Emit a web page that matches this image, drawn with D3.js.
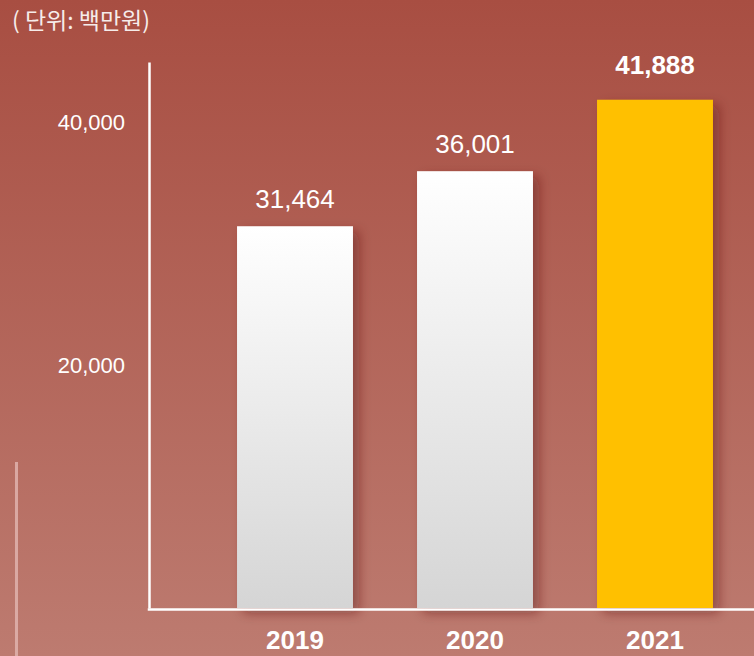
<!DOCTYPE html>
<html>
<head>
<meta charset="utf-8">
<script src="https://cdn.jsdelivr.net/npm/d3@7"></script>
<style>
  html, body { margin: 0; padding: 0; }
  body { width: 754px; height: 656px; overflow: hidden; }
  svg { display: block; font-family: "Liberation Sans", Arial, sans-serif; }
</style>
</head>
<body>
<div id="chart"></div>
<script>
(function () {
  // ---------- Data ----------
  const years = ['2019', '2020', '2021'];
  const sales = [31464, 36001, 41888];
  const yTicks = [20000, 40000];
  const unitLabel = '( 단위: 백만원)';
  const highlightYear = '2021';

  // ---------- Layout ----------
  const width = 754, height = 656;
  const axisX = 149, axisY = 609;

  const svg = d3.select('#chart').append('svg')
    .attr('width', width)
    .attr('height', height);

  const defs = svg.append('defs');

  // background gradient (dark red at top, lighter toward bottom)
  const bg = defs.append('linearGradient')
    .attr('id', 'bg').attr('x1', 0).attr('y1', 0).attr('x2', 0).attr('y2', 1);
  bg.append('stop').attr('offset', '0%').attr('stop-color', '#a84e42');
  bg.append('stop').attr('offset', '100%').attr('stop-color', '#bd7b70');

  // white bars fade to light grey
  const barGrad = defs.append('linearGradient')
    .attr('id', 'barGrad').attr('x1', 0).attr('y1', 0).attr('x2', 0).attr('y2', 1);
  barGrad.append('stop').attr('offset', '0%').attr('stop-color', '#ffffff');
  barGrad.append('stop').attr('offset', '100%').attr('stop-color', '#d5d5d5');

  const shadow = defs.append('filter')
    .attr('id', 'shadow')
    .attr('x', '-20%').attr('y', '-10%').attr('width', '150%').attr('height', '130%');
  shadow.append('feDropShadow')
    .attr('dx', 6).attr('dy', 5)
    .attr('stdDeviation', 6)
    .attr('flood-color', '#5a1e16')
    .attr('flood-opacity', 0.45);

  svg.append('rect')
    .attr('width', width).attr('height', height)
    .attr('fill', 'url(#bg)');

  // ---------- Scales ----------
  const x = d3.scaleBand()
    .domain(years)
    .range([205, 745])
    .paddingInner(0.356)
    .paddingOuter(0.178);

  const y = d3.scaleLinear()
    .domain([0, 45000])
    .range([608, 62]);

  // decorative thin line at left
  svg.append('line')
    .attr('x1', 16.5).attr('x2', 16.5)
    .attr('y1', 462).attr('y2', height)
    .attr('stroke', '#e2b7b1')
    .attr('stroke-opacity', 0.8)
    .attr('stroke-width', 3);

  // unit label
  svg.append('text')
    .attr('x', 12).attr('y', 29)
    .attr('fill', '#f6ecea')
    .style('font-family', '"Noto Sans CJK KR", "Liberation Sans", sans-serif')
    .style('font-size', '23px')
    .text(unitLabel);

  // ---------- Bars ----------
  const rows = years.map((yr, i) => ({ year: yr, value: sales[i] }));

  svg.append('g')
    .selectAll('rect')
    .data(rows)
    .enter()
    .append('rect')
    .attr('x', d => x(d.year))
    .attr('y', d => y(d.value))
    .attr('width', x.bandwidth())
    .attr('height', d => y(0) - y(d.value))
    .attr('fill', d => d.year === highlightYear ? '#ffc000' : 'url(#barGrad)')
    .attr('filter', 'url(#shadow)');

  // value labels
  svg.append('g')
    .selectAll('text')
    .data(rows)
    .enter()
    .append('text')
    .attr('x', d => x(d.year) + x.bandwidth() / 2)
    .attr('y', d => y(d.value) - (d.year === highlightYear ? 26 : 18))
    .attr('text-anchor', 'middle')
    .attr('fill', '#ffffff')
    .style('font-size', '26px')
    .style('font-weight', d => d.year === highlightYear ? 'bold' : 'normal')
    .text(d => d3.format(',')(d.value));

  // ---------- Axes ----------
  const yAxis = svg.append('g')
    .attr('transform', `translate(${axisX},0)`)
    .call(d3.axisLeft(y).tickValues(yTicks).tickSize(0).tickPadding(24).tickFormat(d3.format(',')));
  yAxis.select('.domain')
    .attr('stroke', '#ffffff')
    .attr('stroke-width', 2.5);
  yAxis.selectAll('text')
    .attr('fill', '#ffffff')
    .style('font-family', '"Liberation Sans", Arial, sans-serif')
    .style('font-size', '22px');

  svg.append('line')
    .attr('x1', axisX - 1.25).attr('x2', width)
    .attr('y1', axisY + 0.5).attr('y2', axisY + 0.5)
    .attr('stroke', '#ffffff')
    .attr('stroke-width', 2.5);

  const xAxis = svg.append('g')
    .attr('transform', `translate(0,${axisY})`)
    .call(d3.axisBottom(x).tickSize(0).tickPadding(22));
  xAxis.select('.domain').remove();
  xAxis.selectAll('text')
    .attr('fill', '#ffffff')
    .style('font-family', '"Liberation Sans", Arial, sans-serif')
    .style('font-size', '26px')
    .style('font-weight', 'bold');
})();
</script>
</body>
</html>
